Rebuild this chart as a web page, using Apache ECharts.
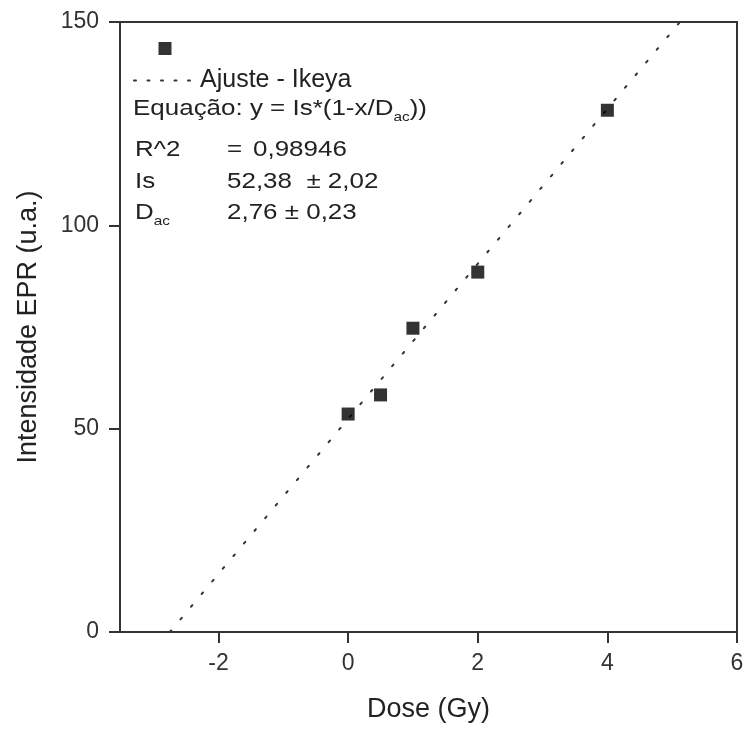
<!DOCTYPE html>
<html><head><meta charset="utf-8">
<script src="https://cdn.jsdelivr.net/npm/echarts@6/dist/echarts.min.js"></script>
<style>html,body{margin:0;padding:0;background:#fff}#c{width:747px;height:729px}</style>
</head><body><div id="c"></div>
<script>
const doseX = [0, 0.5, 1, 2, 4];
const eprY = [53.6, 58.3, 74.7, 88.5, 128.3];
const fitX = [-2.75, 5.12];
const fitY = [0, 150];
const xTicks = [-2, 0, 2, 4, 6];
const yTicks = [0, 50, 100, 150];

const font = 'Liberation Sans, Arial, sans-serif';
const chart = echarts.init(document.getElementById('c'));
const base = {fontFamily:font, fontSize:22, fill:'#222', verticalAlign:'middle', align:'left'};
const txt = (x, y, s) => ({type:'text', x:x, y:y, scaleX:1.18, style:Object.assign({text:s}, base)});
const richTxt = (x, y, s) => ({type:'text', x:x, y:y, scaleX:1.18, style:Object.assign({text:s,
  rich:{a:{fontFamily:font,fontSize:22,fill:'#222'},s:{fontFamily:font,fontSize:13,fill:'#222',padding:[17,0,0,0]}}}, base)});
chart.setOption({
  animation:false,
  grid:{left:120,right:10,top:22,bottom:97,show:true,borderColor:'#333',borderWidth:2},
  xAxis:{type:'value',min:-3.52,max:6,
    name:'Dose (Gy)',nameLocation:'middle',nameGap:64,
    nameTextStyle:{fontFamily:font,fontSize:27,color:'#222'},
    axisLine:{onZero:false,lineStyle:{color:'#333',width:2}},
    axisTick:{customValues:xTicks,length:11,inside:false,lineStyle:{color:'#333',width:2}},
    axisLabel:{customValues:xTicks,fontFamily:font,fontSize:23,color:'#333',margin:20},
    splitLine:{show:false}},
  yAxis:{type:'value',min:0,max:150,interval:50,
    name:'Intensidade EPR (u.a.)',nameLocation:'middle',nameGap:78,
    nameTextStyle:{fontFamily:font,fontSize:27,color:'#222'},
    axisLine:{onZero:false,lineStyle:{color:'#333',width:2}},
    axisTick:{length:11,lineStyle:{color:'#333',width:2}},
    axisLabel:{fontFamily:font,fontSize:23,color:'#333',margin:21},
    splitLine:{show:false}},
  legend:[
    {data:['Dados'],orient:'vertical',left:158.5,top:42,padding:0,itemWidth:13,itemHeight:13,formatter:()=>'',
     textStyle:{fontSize:1}},
    {data:['Ajuste - Ikeya'],orient:'vertical',left:133,top:68,padding:0,itemWidth:61,itemHeight:14,
     itemStyle:{color:'rgba(0,0,0,0)',borderWidth:0},
     lineStyle:{color:'#333',width:2,type:[2,11.5],cap:'round'},
     textStyle:{fontFamily:font,fontSize:25,color:'#222'}}
  ],
  graphic:[
    richTxt(133,109,'{a|Equação: y = Is*(1-x/D}{s|ac}{a|))}'),
    txt(135,150,'R^2'), txt(227,150,'='), txt(253,150,'0,98946'),
    txt(135,182,'Is'), txt(227,182,'52,38  ± 2,02'),
    richTxt(135,213,'{a|D}{s|ac}'),
    txt(227,213,'2,76 ± 0,23')
  ],
  series:[
    {name:'Ajuste - Ikeya',type:'line',data:fitX.map((x,i)=>[x,fitY[i]]),showSymbol:false,symbol:'none',
     lineStyle:{color:'#333',width:2,type:[2,14.5],cap:'round'},z:1},
    {name:'Dados',type:'scatter',data:doseX.map((x,i)=>[x,eprY[i]]),symbol:'rect',symbolSize:13,
     itemStyle:{color:'#000'},z:3}
  ]
});
</script></body></html>
